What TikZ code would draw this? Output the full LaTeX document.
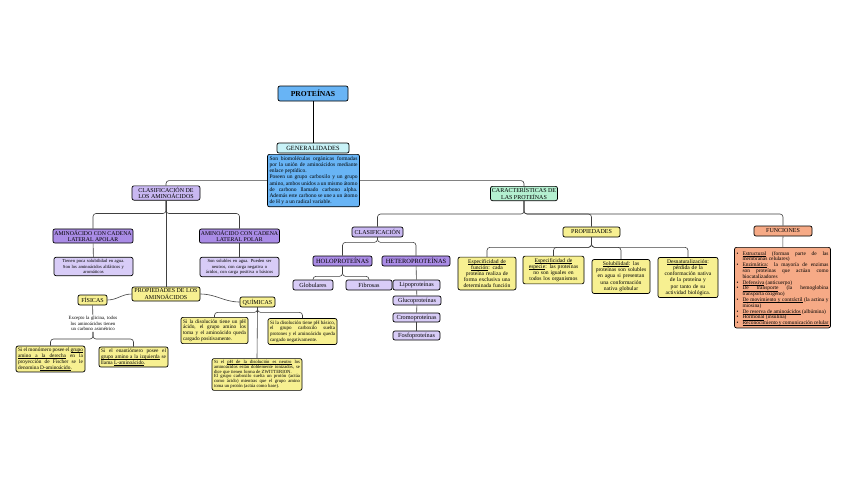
\documentclass[tikz,border=0pt]{standalone}
\usepackage{fontspec}
\setmainfont{Liberation Serif}
\usepackage{tikz}
\usetikzlibrary{positioning}
\definecolor{pblue}{RGB}{104,180,245}
\definecolor{pcyan}{RGB}{200,242,247}
\definecolor{plav}{RGB}{201,184,242}
\definecolor{ppurple}{RGB}{170,140,230}
\definecolor{plight}{RGB}{216,204,247}
\definecolor{pyellow}{RGB}{247,240,145}
\definecolor{pmint}{RGB}{180,240,208}
\definecolor{psalmon}{RGB}{246,170,134}
% breakable underline, word by word
\makeatletter
\def\pul#1{\pul@a#1 \pul@stop}
\def\pul@a#1 #2\pul@stop{\pul@w{#1}\if\relax\detokenize{#2}\relax\else\pul@s\pul@a#2\pul@stop\fi}
\def\pul@w#1{\setbox\z@\hbox{#1}\leavevmode\rlap{\rule[-0.8pt]{\wd\z@}{0.25pt}}\box\z@}
\def\pul@s{\leaders\hrule height -0.55pt depth 0.8pt\hskip\fontdimen2\font plus\fontdimen3\font minus\fontdimen4\font}
\let\uw\pul@w
\makeatother
\newcommand\fitem[1]{\par\noindent\hangindent=6pt\hangafter=1\makebox[6pt][l]{\textbullet}#1}
\hyphenpenalty=10000
\exhyphenpenalty=10000
\tolerance=9999
\tikzset{
  box/.style={draw=black,line width=0.7pt,rounded corners=2pt,align=center,inner sep=1.4pt,font=\fontsize{6}{6.3}\selectfont},
  note/.style={box,font=\fontsize{5.3}{5.8}\selectfont,inner sep=2pt},
  link/.style={draw=black!75,line width=0.6pt,rounded corners=3pt},
}
\begin{document}
\begin{tikzpicture}[x=1pt,y=-1pt]
\useasboundingbox[fill=white] (0,0) rectangle (848,477);

% top
\node[box,fill=pblue,minimum width=70pt,minimum height=15pt,font=\bfseries\fontsize{7.6}{8}\selectfont] (prot) at (313,93.5) {PROTEÍNAS};
\node[box,fill=pcyan,minimum width=72pt,minimum height=10pt,font=\fontsize{6.4}{6.6}\selectfont] (gen) at (313,148) {GENERALIDADES};
\node[note,fill=pblue,text width=88pt,align=justify,anchor=north,font=\fontsize{5.5}{6.2}\selectfont] (desc) at (313.5,154)
  {Son biomoléculas orgánicas formadas por la unión de aminoácidos mediante enlace peptídico.\par
   Poseen un grupo carboxilo y un grupo amino, ambos unidos a un mismo átomo de carbono llamado carbono alpha. Además este carbono se une a un átomo de H y a un radical variable.};

% amino acids
\node[box,fill=plav,minimum width=68pt,minimum height=14pt] (clasaa) at (166,193) {CLASIFICACIÓN DE\\LOS AMINOÁCIDOS};
\node[box,fill=ppurple,minimum width=80pt,minimum height=14pt,font=\fontsize{5.8}{6.2}\selectfont] (apolar) at (93,236) {AMINOÁCIDO CON CADENA\\LATERAL APOLAR};
\node[box,fill=ppurple,minimum width=79pt,minimum height=14pt,font=\fontsize{5.8}{6.2}\selectfont] (polar) at (239.5,236) {AMINOÁCIDO CON CADENA\\LATERAL POLAR};
\node[note,fill=plight,text width=75pt,font=\fontsize{4.6}{5.6}\selectfont] (apdesc) at (93.5,266.5) {Tienen poca solubilidad en agua.\\Son los aminoácidos alifáticos y\\aromáticos};
\node[note,fill=plight,text width=75pt,font=\fontsize{4.6}{5.6}\selectfont] (podesc) at (239.5,267) {Son solubles en agua. Pueden ser\\neutros, con carga negativa o\\ácidos, con carga positiva o básicos};
\node[box,fill=pyellow,minimum width=68pt,minimum height=14pt] (propaa) at (166,294) {PROPIEDADES DE LOS\\AMINOÁCIDOS};
\node[box,fill=pyellow,minimum width=29pt,minimum height=10pt] (fis) at (92.5,300) {FÍSICAS};
\node[box,fill=pyellow,minimum width=35pt,minimum height=10pt] (quim) at (257.5,302) {QUÍMICAS};
\node[align=center,text width=74pt,inner sep=1pt,font=\fontsize{4.8}{5.6}\selectfont] (fisnote) at (93,323.5) {Excepto la glicina, todos los aminoácidos tienen un carbono asimétrico};
\node[note,fill=pyellow,text width=65pt,align=justify] (dbox) at (50.5,359) {Si el monómero posee el \pul{grupo amino a la derecha} en la proyección de Fischer se le denomina \pul{D-aminoácido}.};
\node[note,fill=pyellow,text width=65pt,align=justify] (lbox) at (133.5,357) {Si el enantiómero posee el \pul{grupo amino a la izquierda} se llama \pul{L-aminoácido}.};
\node[note,fill=pyellow,text width=63pt,align=justify] (acid) at (214.5,330.5) {Si la disolución tiene un pH ácido, el grupo amino los toma y el aminoácido queda cargado positivamente.};
\node[note,fill=pyellow,text width=65pt,align=justify,font=\fontsize{5}{5.8}\selectfont] (basic) at (302.5,331.5) {Si la disolución tiene pH básico, el grupo carboxilo suelta protones y el aminoácido queda cargado negativamente.};
\node[note,fill=pyellow,text width=86pt,align=justify,font=\fontsize{4.7}{4.7}\selectfont] (neutral) at (257,374.5) {Si el \pul{pH de la disolución es neutro} los aminoácidos están doblemente ionizados, se dice que tienen forma de ZWITTERION.\par El grupo carboxilo suelta un protón (actúa como ácido) mientras que el grupo amino toma un protón (actúa como base).};

% proteins
\node[box,fill=pmint,minimum width=66pt,minimum height=14pt] (carac) at (524,193.5) {CARACTERÍSTICAS DE\\LAS PROTEÍNAS};
\node[box,fill=plav,minimum width=51pt,minimum height=10pt] (clasp) at (377.5,232) {CLASIFICACIÓN};
\node[box,fill=pyellow,minimum width=57pt,minimum height=10pt] (propp) at (591.5,232) {PROPIEDADES};
\node[box,fill=psalmon,minimum width=58pt,minimum height=10pt] (func) at (783,231) {FUNCIONES};
\node[box,fill=ppurple,minimum width=59pt,minimum height=10pt,font=\fontsize{6.4}{6.6}\selectfont] (holo) at (342.5,261) {HOLOPROTEÍNAS};
\node[box,fill=ppurple,minimum width=68pt,minimum height=10pt,font=\fontsize{6.4}{6.6}\selectfont] (hetero) at (416,261) {HETEROPROTEÍNAS};
\node[box,fill=plight,minimum width=40pt,minimum height=10pt,font=\fontsize{6.2}{6.4}\selectfont] (glob) at (313,285) {Globulares};
\node[box,fill=plight,minimum width=46pt,minimum height=10pt,font=\fontsize{6.2}{6.4}\selectfont] (fib) at (369,285) {Fibrosas};
\node[box,fill=plight,minimum width=47pt,minimum height=10pt,font=\fontsize{6.2}{6.4}\selectfont] (lipo) at (416.5,285) {Lipoproteínas};
\node[box,fill=plight,minimum width=48pt,minimum height=9pt,font=\fontsize{6.2}{6.4}\selectfont] (gluco) at (417,300.5) {Glucoproteínas};
\node[box,fill=plight,minimum width=47pt,minimum height=9pt,font=\fontsize{6.2}{6.4}\selectfont] (cromo) at (416.5,317.5) {Cromoproteínas};
\node[box,fill=plight,minimum width=47pt,minimum height=9pt,font=\fontsize{6.2}{6.4}\selectfont] (fosfo) at (416.5,335.5) {Fosfoproteínas};
\node[note,fill=pyellow,text width=54pt,font=\fontsize{5.6}{6.2}\selectfont] (espfun) at (487,273.5) {\pul{Especificidad de función}: cada proteína realiza de forma exclusiva una determinada función};
\node[note,fill=pyellow,text width=57pt,font=\fontsize{5.6}{6.2}\selectfont] (espesp) at (553.5,270) {\pul{Especificidad de especie}: las proteínas no son iguales en todos los organismos};
\node[note,fill=pyellow,text width=54pt,font=\fontsize{5.6}{6.2}\selectfont] (solub) at (621,276.5) {\uw{Solubilidad}: las proteínas son solubles en agua si presentan una conformación nativa globular};
\node[note,fill=pyellow,text width=56pt,font=\fontsize{5.6}{6.2}\selectfont] (desnat) at (688,277.5) {\uw{Desnaturalización}: pérdida de la conformación nativa de la proteína y por tanto de su actividad biológica.};
\node[note,fill=psalmon,text width=92pt,align=justify,anchor=north,font=\fontsize{5.4}{5.8}\selectfont] (funclist) at (782.5,247)
  {\fitem{\uw{Estructural} (forman parte de las membranas celulares)}
   \fitem{\uw{Enzimática}: la mayoría de enzimas son proteínas que actúan como biocatalizadores}
   \fitem{\uw{Defensiva} (anticuerpo)}
   \fitem{\pul{De transporte} (la hemoglobina transporta oxígeno)}
   \fitem{\pul{De movimiento y contráctil} (la actina y miosina)}
   \fitem{\pul{De reserva de aminoácidos} (albúmina)}
   \fitem{\uw{Hormonal} (insulina)}
   \fitem{\pul{Reconocimiento y comunicación celular}}};

% connectors
\draw[link,draw=black] (prot) -- (gen);
\draw[link] (desc.west) -| (clasaa.north);
\draw[link] (desc.east) -| (carac.north);
\draw[link] (clasaa.south) -- ++(0,13) -| (apolar.north);
\draw[link] (clasaa.south) -- ++(0,13) -| (polar.north);
\draw[link] (clasaa.south) -- (propaa.north);
\draw[link] (apolar) -- (apdesc);
\draw[link] (polar) -- (podesc);
\draw[link] (propaa.west) to[out=180,in=0] (fis.east);
\draw[link] (propaa.east) to[out=0,in=180] (quim.west);
\draw[link] (fis) -- (fisnote);
\draw[link] (fisnote.south) -- ++(0,7) -| (dbox.north);
\draw[link] (fisnote.south) -- ++(0,7) -| (lbox.north);
\draw[link] (quim.south) -- ++(0,5) -| (acid.north);
\draw[link] (quim.south) -- ++(0,5) -| (basic.north);
\draw[link] (quim.south) -- (neutral.north);
\draw[link] (carac.south) -- ++(0,13) -| (clasp.north);
\draw[link] (carac.south) -- ++(0,13) -| (propp.north);
\draw[link] (carac.south) -- ++(0,13) -| (func.north);
\draw[link] (clasp.south) -- ++(0,5) -| (holo.north);
\draw[link] (clasp.south) -- ++(0,5) -| (hetero.north);
\draw[link] (holo.south) -- ++(0,10) -| (glob.north);
\draw[link] (holo.south) -- ++(0,10) -| (fib.north);
\draw[link] (hetero) -- (lipo);
\draw[link] (lipo) -- (gluco);
\draw[link] (gluco) -- (cromo);
\draw[link] (cromo) -- (fosfo);
\draw[link] (propp.south) -- ++(0,10) -| (espfun.north);
\draw[link] (propp.south) -- ++(0,10) -| (espesp.north);
\draw[link] (propp.south) -- ++(0,10) -| (solub.north);
\draw[link] (propp.south) -- ++(0,10) -| (desnat.north);
\draw[link] (func) -- (funclist);
\end{tikzpicture}
\end{document}
